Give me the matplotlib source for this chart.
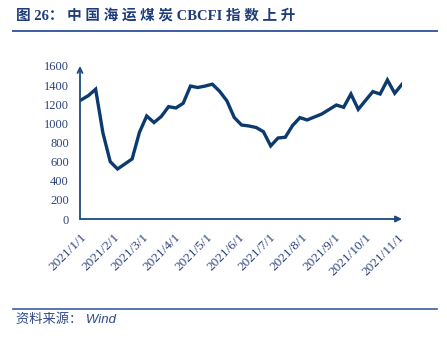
import matplotlib
matplotlib.use("Agg")
import matplotlib.pyplot as plt
import pandas as pd

# weekly CBCFI values, starting 2021-01-01
cbcfi = [1245, 1290, 1357, 900, 600, 523, 575, 628, 905, 1077,
         1009, 1072, 1175, 1161, 1210, 1390, 1375, 1390, 1410, 1335,
         1235, 1062, 983, 973, 957, 913, 764, 847, 855, 978,
         1060, 1036, 1067, 1098, 1145, 1192, 1168, 1307, 1147, 1240,
         1332, 1307, 1454, 1315, 1409]
dates = pd.date_range("2021-01-01", periods=len(cbcfi), freq="7D")
month_ticks = pd.date_range("2021-01-01", "2021-11-01", freq="MS")
month_labels = [f"{d.year}/{d.month}/{d.day}" for d in month_ticks]
y_ticks = list(range(0, 1601, 200))

navy = "#0b3a6e"
axis_col = "#1c4a7e"
text_col = "#2d437c"

W, H = 447, 338
fig = plt.figure(figsize=(W / 100, H / 100), dpi=100)
ax = fig.add_axes([80 / W, 1 - 219 / H, (402 - 80) / W, (219 - 66) / H])

ax.plot(dates, cbcfi, color=navy, lw=2.4, solid_joinstyle="miter")
ax.set_xlim(dates[0] - pd.Timedelta(days=1), dates[-1])
ax.set_ylim(0, 1600)

for s in ["top", "right", "left", "bottom"]:
    ax.spines[s].set_visible(False)
# axes drawn as arrows
ax.annotate("", xy=(0, 1.0), xytext=(0, 0), xycoords="axes fraction",
            arrowprops=dict(arrowstyle="->", color=axis_col, lw=1.3,
                            mutation_scale=9, shrinkA=0, shrinkB=0))
ax.annotate("", xy=(1.0, 0), xytext=(0, 0), xycoords="axes fraction",
            arrowprops=dict(arrowstyle="-|>", color=axis_col, lw=1.3,
                            mutation_scale=9, shrinkA=0, shrinkB=0))

ax.set_yticks(y_ticks)
ax.set_yticklabels([str(v) for v in y_ticks], family="Liberation Serif",
                   fontsize=9, color=text_col)
ax.set_xticks(month_ticks)
ax.set_xticklabels(month_labels, family="Liberation Serif", fontsize=9.5,
                   color=text_col, rotation=45, ha="right", va="top",
                   rotation_mode="anchor")
ax.tick_params(axis="both", length=0)
ax.tick_params(axis="y", pad=8)
ax.tick_params(axis="x", pad=9)

# title and source
fig.text(16 / W, 1 - 17 / H, "图 26： 中 国 海 运 煤 炭 CBCFI 指 数 上 升",
         family=["Liberation Serif", "Noto Sans CJK SC"], fontweight="bold",
         fontsize=10.5, color="#1f3c7a", va="center", ha="left")
fig.add_artist(plt.Line2D([13 / W, 437 / W], [1 - 31 / H, 1 - 31 / H],
                          color="#3b5ca6", lw=1.4))
fig.add_artist(plt.Line2D([13 / W, 437 / W], [1 - 309 / H, 1 - 309 / H],
                          color="#3b5ca6", lw=1.2))
fig.text(16 / W, 1 - 320 / H, "资料来源： Wind",
         family=["Liberation Sans", "Noto Sans CJK SC"], style="italic",
         fontsize=9.5, color="#2e4a8a", va="center", ha="left")

fig.savefig("out.png", dpi=100)
